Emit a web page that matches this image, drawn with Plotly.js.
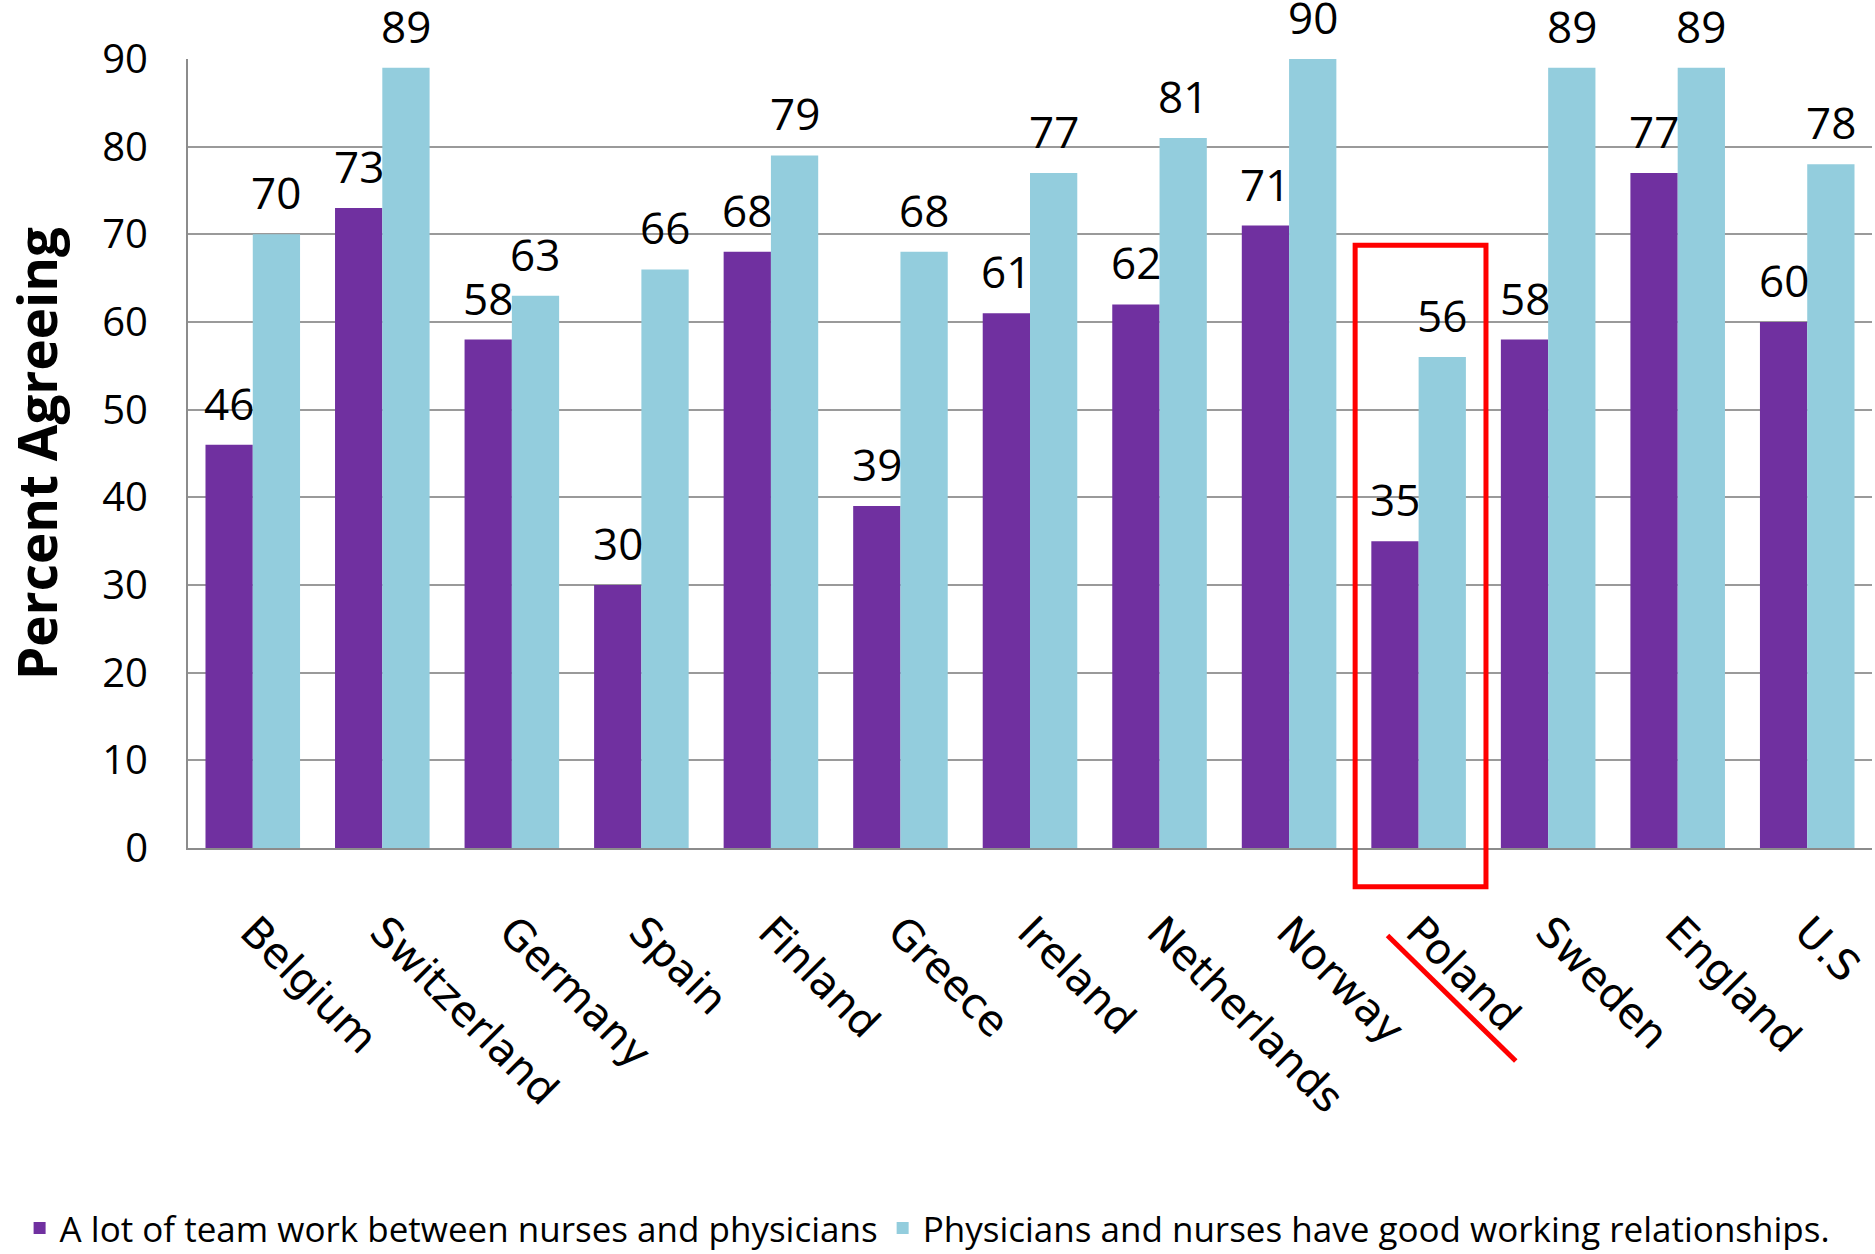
<!DOCTYPE html>
<html>
<head>
<meta charset="utf-8">
<script src="https://cdn.plot.ly/plotly-3.0.1.min.js"></script>
<style>html,body{margin:0;padding:0;background:#fff;}#chart{width:1875px;height:1254px;}</style>
</head>
<body>
<div id="chart"></div>
<script>
const countries = ["Belgium","Switzerland","Germany","Spain","Finland","Greece","Ireland","Netherlands","Norway","Poland","Sweden","England","U.S"];
const teamWork = [46,73,58,30,68,39,61,62,71,35,58,77,60];
const goodRelations = [70,89,63,66,79,68,77,81,90,56,89,89,78];
const seriesNames = ["A lot of team work between nurses and physicians","Physicians and nurses have good working relationships."];
const yTicks = [0,10,20,30,40,50,60,70,80,90];
const highlighted = "Poland";

const FONT = "Open Sans, sans-serif";
const W = 1875, H = 1254;
const M = {l:188, r:3, t:59, b:406};
const BARGAP = 0.27;
const hi = countries.indexOf(highlighted);

const catPx = (W - M.l - M.r) / countries.length;
const halfShift = catPx * (1 - BARGAP) / 4;

const traces = [
  {type:"bar", name:seriesNames[0], x:countries, y:teamWork,
   marker:{color:"#7030A0"}, hoverinfo:"none"},
  {type:"bar", name:seriesNames[1], x:countries, y:goodRelations,
   marker:{color:"#93CDDD"}, hoverinfo:"none"}
];

const labelFont = {family:FONT, size:44, color:"#000"};
const annotations = [];
countries.forEach((c, i) => {
  annotations.push({xref:"x", yref:"y", x:c, y:teamWork[i], text:String(teamWork[i]),
    showarrow:false, xanchor:"center", yanchor:"bottom", xshift:-halfShift, yshift:10, font:labelFont});
  annotations.push({xref:"x", yref:"y", x:c, y:goodRelations[i], text:String(goodRelations[i]),
    showarrow:false, xanchor:"center", yanchor:"bottom", xshift:halfShift, yshift:10, font:labelFont});
});

const layout = {
  width:W, height:H,
  margin:{l:M.l, r:M.r, t:M.t, b:M.b, autoexpand:false},
  paper_bgcolor:"#fff", plot_bgcolor:"#fff",
  barmode:"group", bargap:BARGAP, bargroupgap:0,
  showlegend:true,
  legend:{orientation:"h", x:-0.1, xanchor:"left", y:-0.482, yanchor:"middle",
    font:{family:FONT,size:35,color:"#000"}, itemwidth:30, traceorder:"normal"},
  xaxis:{type:"category", tickangle:45, tickfont:{family:"DejaVu Sans, sans-serif",size:42,color:"#000"},
    showline:true, linecolor:"#8c8c8c", linewidth:2, ticks:"", showgrid:false,
    ticklabelstandoff:40, automargin:false},
  yaxis:{range:[0,90], tickvals:yTicks, ticktext:yTicks.map(String),
    tickfont:{family:FONT,size:40,color:"#000"}, showgrid:true, gridcolor:"#9a9a9a", gridwidth:2,
    showline:true, linecolor:"#8c8c8c", linewidth:2, zeroline:false, ticks:"", ticklabelstandoff:30,
    title:{text:"Percent Agreeing", font:{family:FONT,size:53,color:"#000",weight:"bold"}, standoff:30},
    automargin:false},
  annotations:annotations,
  shapes:[
    {type:"rect", xref:"x", yref:"paper", x0:hi-0.49, x1:hi+0.52, y0:-0.049, y1:0.764,
     line:{color:"#FF0000", width:5}, fillcolor:"rgba(0,0,0,0)"},
    {type:"line", xref:"x", yref:"paper", x0:hi-0.24, x1:hi+0.75, y0:-0.111, y1:-0.270,
     line:{color:"#FF0000", width:5}}
  ]
};

Plotly.newPlot("chart", traces, layout, {displayModeBar:false, staticPlot:true});
</script>
</body>
</html>
